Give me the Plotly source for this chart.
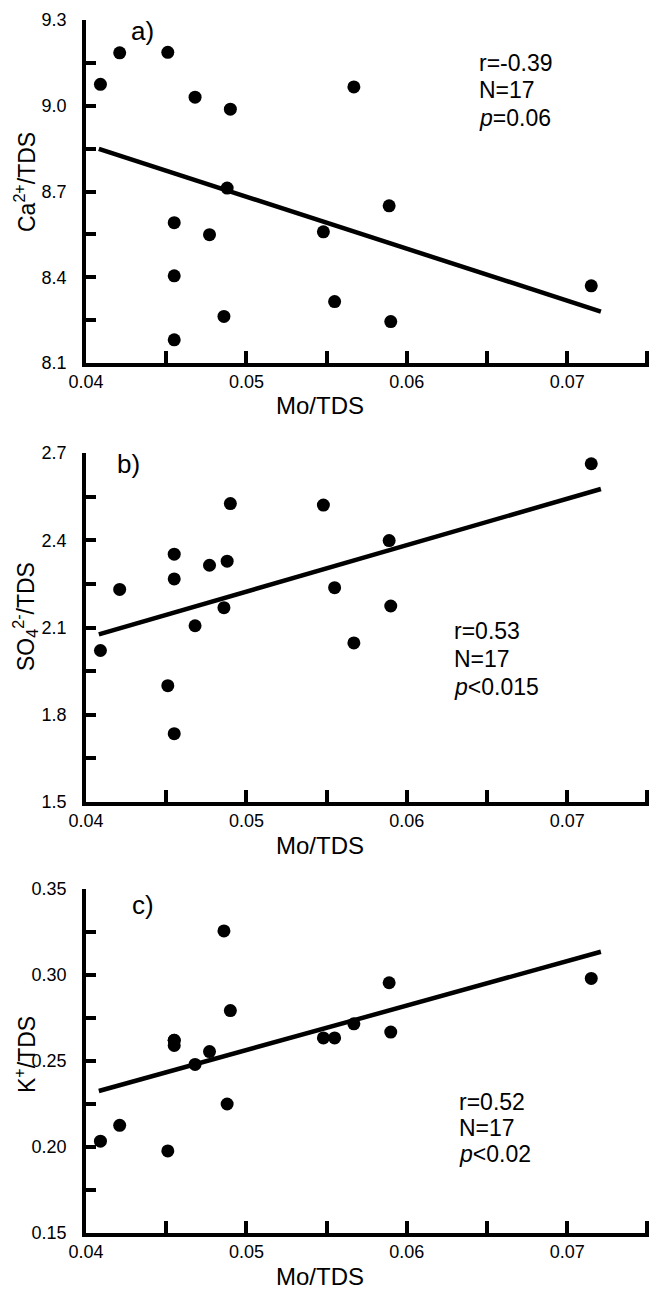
import numpy as np
import plotly.graph_objects as go

# ---- data ----
mo_tds = [0.0409, 0.0421, 0.0451, 0.0455, 0.0455, 0.0455, 0.0468, 0.0477, 0.0486,
          0.0488, 0.0490, 0.0548, 0.0555, 0.0567, 0.0589, 0.0590, 0.0715]
ca_tds = [9.075, 9.185, 9.187, 8.591, 8.405, 8.181, 9.030, 8.549, 8.263,
          8.712, 8.988, 8.559, 8.315, 9.066, 8.650, 8.245, 8.370]
so4_tds = [2.021, 2.231, 1.900, 2.352, 2.267, 1.735, 2.106, 2.314, 2.168,
           2.328, 2.526, 2.521, 2.237, 2.047, 2.399, 2.174, 2.663]
k_tds = [0.2034, 0.2126, 0.1977, 0.2620, 0.2590, 0.2620, 0.2480, 0.2555, 0.3256,
         0.2250, 0.2793, 0.2634, 0.2634, 0.2716, 0.2955, 0.2668, 0.2980]
fit_range = [0.0408, 0.0721]

x_tickvals = [0.04, 0.045, 0.05, 0.055, 0.06, 0.065, 0.07, 0.075]
x_ticktext = ["0.04", "", "0.05", "", "0.06", "", "0.07", ""]
ca_tickvals = [8.1, 8.25, 8.4, 8.55, 8.7, 8.85, 9.0, 9.15, 9.3]
ca_ticktext = ["8.1", "", "8.4", "", "8.7", "", "9.0", "", "9.3"]
so4_tickvals = [1.5, 1.65, 1.8, 1.95, 2.1, 2.25, 2.4, 2.55, 2.7]
so4_ticktext = ["1.5", "", "1.8", "", "2.1", "", "2.4", "", "2.7"]
k_tickvals = [0.15, 0.175, 0.2, 0.225, 0.25, 0.275, 0.3, 0.325, 0.35]
k_ticktext = ["0.15", "", "0.20", "", "0.25", "", "0.30", "", "0.35"]

panel_letters = ["a)", "b)", "c)"]
y_titles = ["Ca<sup>2+</sup>/TDS", "SO<sub>4</sub><sup>2-</sup>/TDS", "K<sup>+</sup>/TDS"]
x_title = "Mo/TDS"
stats_text = [["r=-0.39", "N=17", "<i>p</i>=0.06"],
              ["r=0.53", "N=17", "<i>p</i><0.015"],
              ["r=0.52", "N=17", "<i>p</i><0.02"]]
y_ranges = [[8.1, 9.3], [1.5, 2.7], [0.15, 0.35]]
y_ticks = [(ca_tickvals, ca_ticktext), (so4_tickvals, so4_ticktext), (k_tickvals, k_ticktext)]

# ---- layout geometry (style) ----
W, H = 655, 1293
ML, MR = 86, 6
PW = W - ML - MR
dom_px = [(20, 363), (453, 802), (889, 1233)]   # (top, bottom) in page pixels
y_domains = [[(H - b) / H, (H - t) / H] for t, b in dom_px]
stat_pos = [(0.694, [0.875, 0.796, 0.714]),
            (0.650, [0.490, 0.410, 0.330]),
            (0.659, [0.381, 0.305, 0.230])]
letter_pos = [(0.101, 0.968), (0.075, 0.968), (0.101, 0.953)]
ytitle_center = [182, 617, 1055]

FONT = "Liberation Sans, Arial, sans-serif"
series = [ca_tds, so4_tds, k_tds]

fig = go.Figure()
annotations = []
layout = dict(
    width=W, height=H,
    margin=dict(l=ML, r=MR, t=0, b=0),
    paper_bgcolor="white", plot_bgcolor="white",
    showlegend=False,
    font=dict(family=FONT, color="black"),
)

for i, ys in enumerate(series):
    sfx = "" if i == 0 else str(i + 1)
    xa, ya = "x" + sfx, "y" + sfx
    fig.add_trace(go.Scatter(x=mo_tds, y=ys, mode="markers", xaxis=xa, yaxis=ya,
                             marker=dict(size=13, color="black"), cliponaxis=False))
    slope, icpt = np.polyfit(mo_tds, ys, 1)
    fx = np.array(fit_range)
    fig.add_trace(go.Scatter(x=fx, y=slope * fx + icpt, mode="lines", xaxis=xa, yaxis=ya,
                             line=dict(color="black", width=4.5), cliponaxis=False))

    layout["xaxis" + sfx] = dict(
        domain=[0, 1], anchor=ya, range=[0.04, 0.0751],
        tickmode="array", tickvals=x_tickvals, ticktext=x_ticktext,
        ticks="inside", ticklen=12, tickwidth=4, tickcolor="black",
        showline=True, linewidth=3.5, linecolor="black",
        showgrid=False, zeroline=False,
        tickfont=dict(family=FONT, size=18, color="black"),
        automargin=False,
    )
    yr = y_ranges[i]
    tv, tt = y_ticks[i]
    layout["yaxis" + sfx] = dict(
        domain=y_domains[i], anchor=xa, range=yr,
        tickmode="array", tickvals=tv, ticktext=tt,
        ticks="inside", ticklen=10, tickwidth=3.5, tickcolor="black",
        showline=True, linewidth=3.5, linecolor="black",
        showgrid=False, zeroline=False,
        tickfont=dict(family=FONT, size=18, color="black"),
        ticklabelstandoff=12,
        automargin=False,
    )
    top, bot = dom_px[i]
    hpx = bot - top
    # y title (rotated)
    annotations.append(dict(text=y_titles[i], xref="paper", yref=ya + " domain",
                            x=(25 - ML) / PW, y=(bot - ytitle_center[i]) / hpx, textangle=-90,
                            showarrow=False, xanchor="center", yanchor="middle",
                            font=dict(family=FONT, size=23, color="black")))
    # x title
    annotations.append(dict(text=x_title, xref=xa + " domain", yref=ya + " domain",
                            x=(320 - ML) / PW, y=-43 / hpx,
                            showarrow=False, xanchor="center", yanchor="middle",
                            font=dict(family=FONT, size=24, color="black")))
    lx, ly = letter_pos[i]
    annotations.append(dict(text=panel_letters[i], xref=xa + " domain", yref=ya + " domain",
                            x=lx, y=ly, showarrow=False, xanchor="center", yanchor="middle",
                            font=dict(family=FONT, size=26, color="black")))
    sx, sys_ = stat_pos[i]
    for t, yy in zip(stats_text[i], sys_):
        annotations.append(dict(text=t, xref=xa + " domain", yref=ya + " domain",
                                x=sx, y=yy, showarrow=False, xanchor="left", yanchor="middle",
                                font=dict(family=FONT, size=23, color="black")))

layout["annotations"] = annotations
fig.update_layout(**layout)
fig.write_html("out.html", config={"displayModeBar": False},
               post_script="document.body.style.margin='0px';")
